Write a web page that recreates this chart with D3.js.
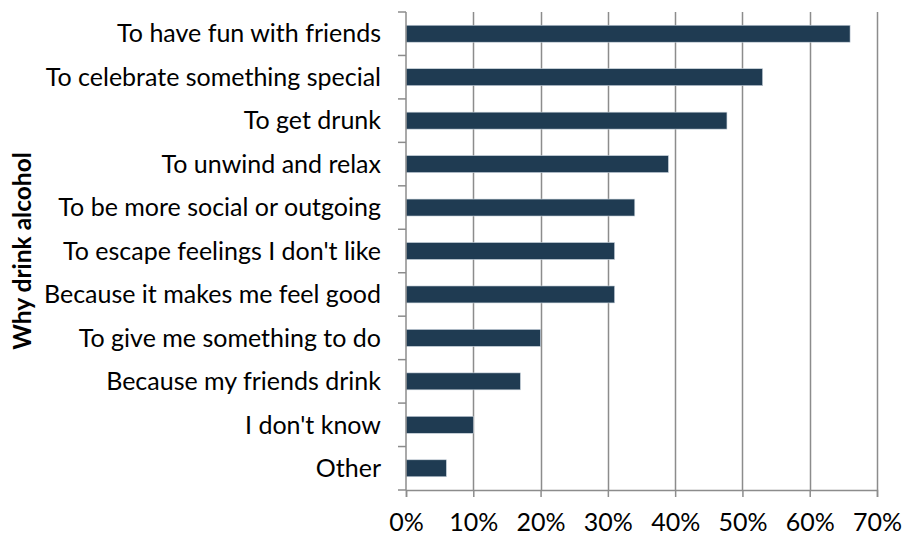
<!DOCTYPE html>
<html>
<head>
<meta charset="utf-8">
<script src="https://cdn.jsdelivr.net/npm/d3@7"></script>
<style>
  html, body { margin: 0; padding: 0; background: #fff; }
  svg { display: block; }
  text { font-family: Lato, "Open Sans", sans-serif; fill: #000; }
</style>
</head>
<body>
<svg id="chart" width="905" height="535"></svg>
<script>
// Reasons given for drinking alcohol, share of respondents
const reasons = [
  "To have fun with friends",
  "To celebrate something special",
  "To get drunk",
  "To unwind and relax",
  "To be more social or outgoing",
  "To escape feelings I don't like",
  "Because it makes me feel good",
  "To give me something to do",
  "Because my friends drink",
  "I don't know",
  "Other"
];
const shares = [0.66, 0.53, 0.477, 0.39, 0.34, 0.31, 0.31, 0.20, 0.17, 0.10, 0.06];
const xTicks = [0, 0.1, 0.2, 0.3, 0.4, 0.5, 0.6, 0.7];
const axisTitle = "Why drink alcohol";

const svg = d3.select("#chart");
const margin = { top: 12, right: 28, bottom: 45, left: 406 };
const width = 905 - margin.left - margin.right;
const height = 535 - margin.top - margin.bottom;

const g = svg.append("g").attr("transform", `translate(${margin.left},${margin.top})`);

const x = d3.scaleLinear().domain([0, 0.7]).range([0, width]);
const y = d3.scaleBand().domain(reasons).range([0, height]).paddingInner(0.61).paddingOuter(0.305);
const yEdges = d3.scaleLinear().domain([0, reasons.length]).range([0, height]);

const gridColor = "#8c8c8c";
const labelSize = 25;

// vertical gridlines
g.append("g")
  .selectAll("line")
  .data(xTicks.slice(1))
  .join("line")
  .attr("x1", d => Math.round(x(d)) + 0.5)
  .attr("x2", d => Math.round(x(d)) + 0.5)
  .attr("y1", 0)
  .attr("y2", height)
  .attr("stroke", gridColor)
  .attr("stroke-width", 1.5);

// bars
g.append("g")
  .selectAll("rect")
  .data(reasons)
  .join("rect")
  .attr("x", 0)
  .attr("y", d => y(d))
  .attr("width", (d, i) => x(shares[i]))
  .attr("height", y.bandwidth())
  .attr("fill", "#1f3b52")
  .attr("stroke", "#c9d3dc")
  .attr("stroke-width", 0.6);

// x axis
const xAxis = g.append("g")
  .attr("transform", `translate(0,${height})`)
  .call(d3.axisBottom(x).tickValues(xTicks).tickFormat(d3.format(".0%")).tickSize(7).tickPadding(16));
xAxis.select(".domain").attr("stroke", gridColor).attr("stroke-width", 1.5);
xAxis.selectAll(".tick line").attr("stroke", gridColor).attr("stroke-width", 1.5);
xAxis.selectAll(".tick text").attr("font-size", labelSize).attr("font-family", "Lato, sans-serif").attr("fill", "#000");

// y axis: category separators and labels
g.append("line")
  .attr("x1", 0).attr("x2", 0).attr("y1", 0).attr("y2", height)
  .attr("stroke", gridColor).attr("stroke-width", 1.5);
g.append("g")
  .selectAll("line")
  .data(d3.range(reasons.length + 1))
  .join("line")
  .attr("x1", -8).attr("x2", 0)
  .attr("y1", d => yEdges(d)).attr("y2", d => yEdges(d))
  .attr("stroke", gridColor).attr("stroke-width", 1.5);

g.append("g")
  .selectAll("text")
  .data(reasons)
  .join("text")
  .attr("x", -25)
  .attr("y", d => y(d) + y.bandwidth() / 2)
  .attr("dy", "0.35em")
  .attr("text-anchor", "end")
  .attr("font-size", labelSize)
  .text(d => d);

// axis title
svg.append("text")
  .attr("transform", `translate(31,${margin.top + height / 2}) rotate(-90)`)
  .attr("text-anchor", "middle")
  .attr("font-size", 24.5)
  .attr("font-weight", "bold")
  .text(axisTitle);
</script>
</body>
</html>
